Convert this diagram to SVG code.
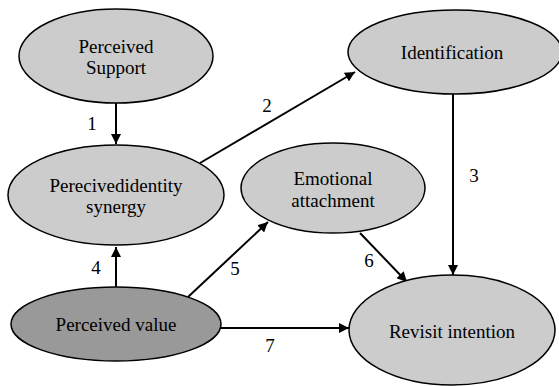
<svg xmlns="http://www.w3.org/2000/svg" width="559" height="386" viewBox="0 0 559 386">
<defs>
<marker id="ah" viewBox="0 0 10 10" refX="10" refY="5" markerWidth="10" markerHeight="10" markerUnits="userSpaceOnUse" orient="auto">
<path d="M0,0 L10,5 L0,10 z" fill="#000"/>
</marker>
<style>
.n{fill:#cccccc;stroke:#000;stroke-width:1.5}
.d{fill:#999999;stroke:#000;stroke-width:1.5}
.c line{stroke:#000;stroke-width:2;marker-end:url(#ah)}
text{font-family:"Liberation Serif","Times New Roman",serif;font-size:19px;fill:#000;text-anchor:middle}
</style>
</defs>
<rect width="559" height="386" fill="#fff"/>
<g class="c" id="connectors">
<line x1="116" y1="103" x2="116" y2="144"/>
<line x1="200" y1="163" x2="355" y2="72"/>
<line x1="453" y1="94" x2="453" y2="275"/>
<line x1="116" y1="287" x2="116" y2="247"/>
<line x1="188" y1="297" x2="268" y2="222"/>
<line x1="360" y1="233" x2="407" y2="282"/>
<line x1="221" y1="328" x2="349" y2="328"/>
<text x="92" y="130">1</text>
<text x="267" y="112">2</text>
<text x="474" y="182">3</text>
<text x="96" y="274">4</text>
<text x="235" y="275">5</text>
<text x="369" y="267">6</text>
<text x="270" y="352">7</text>
</g>
<g id="perceived-support">
<ellipse class="n" cx="116" cy="56" rx="97" ry="47"/>
<text x="116" y="53">Perceived</text>
<text x="116" y="74">Support</text>
</g>
<g id="identity-synergy">
<ellipse class="n" cx="116" cy="195" rx="108" ry="50"/>
<text x="116" y="192">Perecivedidentity</text>
<text x="116" y="213">synergy</text>
</g>
<g id="perceived-value">
<ellipse class="d" cx="116" cy="324" rx="105" ry="37"/>
<text x="116" y="331">Perceived value</text>
</g>
<g id="identification">
<ellipse class="n" cx="455" cy="52" rx="107" ry="42"/>
<text x="452" y="59">Identification</text>
</g>
<g id="emotional-attachment">
<ellipse class="n" cx="333" cy="188" rx="92" ry="45"/>
<text x="333" y="185">Emotional</text>
<text x="333" y="207">attachment</text>
</g>
<g id="revisit-intention">
<ellipse class="n" cx="452" cy="330" rx="103" ry="55"/>
<text x="452" y="338">Revisit intention</text>
</g>
</svg>
